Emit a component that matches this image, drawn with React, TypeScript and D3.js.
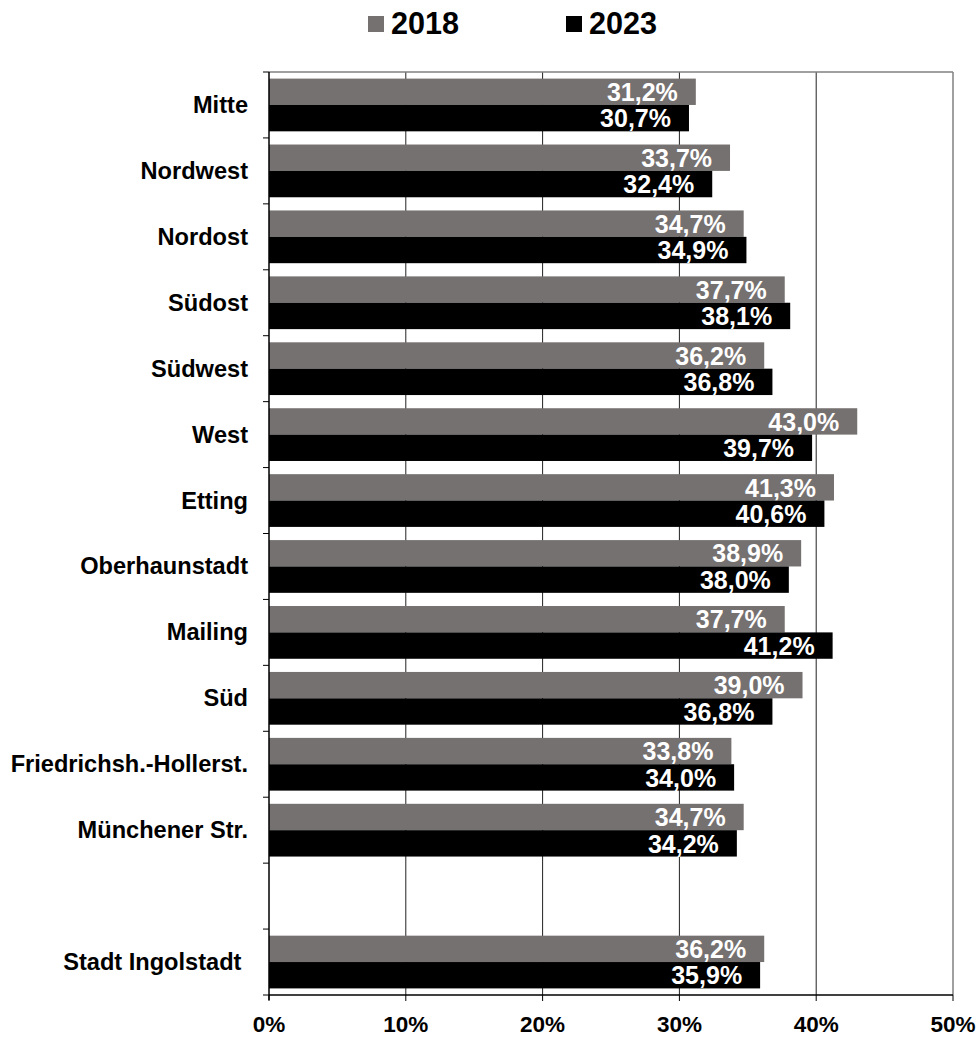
import React from "react";
import * as d3 from "d3";

const categories = [
  "Mitte",
  "Nordwest",
  "Nordost",
  "Südost",
  "Südwest",
  "West",
  "Etting",
  "Oberhaunstadt",
  "Mailing",
  "Süd",
  "Friedrichsh.-Hollerst.",
  "Münchener Str.",
  "",
  "Stadt Ingolstadt\u00A0",
];
const values2018: (number | null)[] = [31.2, 33.7, 34.7, 37.7, 36.2, 43.0, 41.3, 38.9, 37.7, 39.0, 33.8, 34.7, null, 36.2];
const values2023: (number | null)[] = [30.7, 32.4, 34.9, 38.1, 36.8, 39.7, 40.6, 38.0, 41.2, 36.8, 34.0, 34.2, null, 35.9];
const seriesNames = ["2018", "2023"];
const xTicks = [0, 10, 20, 30, 40, 50];

const COLORS = ["#767171", "#000000"];
const FONT = "'Liberation Sans', Arial, sans-serif";

export default function App() {
  const width = 980;
  const height = 1037;
  const left = 269;
  const right = 953;
  const top = 72;
  const bottom = 995;

  const x = d3.scaleLinear().domain([0, 50]).range([left, right]);
  const slots = categories.map((_, i) => String(i));
  const y = d3.scaleBand().domain(slots).range([top, bottom]).paddingInner(0.2).paddingOuter(0.1);
  const sub = d3.scaleBand().domain(seriesNames).range([0, y.bandwidth()]);
  const step = y.step();

  const fmt = (v: number) => v.toFixed(1).replace(".", ",") + "%";
  const series = [values2018, values2023];

  return (
    <svg width={width} height={height} style={{ display: "block", position: "absolute", left: 0, top: 0 }} fontFamily={FONT}>
      <rect x={0} y={0} width={width} height={height} fill="#fff" />
      {/* legend */}
      {seriesNames.map((s, i) => {
        const lx = 368 + i * 198;
        return (
          <g key={s}>
            <rect x={lx} y={16} width={16} height={16} fill={COLORS[i]} />
            <text x={lx + 23} y={34} fontSize={30.6} fontWeight="bold" fill="#000">
              {s}
            </text>
          </g>
        );
      })}
      {/* gridlines */}
      {xTicks.slice(1, -1).map((t) => (
        <line key={t} x1={x(t)} x2={x(t)} y1={top} y2={bottom} stroke="#222" strokeWidth={1} />
      ))}
      {/* plot border top/right */}
      <line x1={left} x2={right} y1={top} y2={top} stroke="#808080" strokeWidth={1.5} />
      <line x1={right} x2={right} y1={top} y2={bottom} stroke="#808080" strokeWidth={1.5} />
      {/* bars */}
      {series.map((vals, si) =>
        vals.map((v, i) => {
          if (v == null) return null;
          const by = (y(String(i)) as number) + (sub(seriesNames[si]) as number);
          const bh = sub.bandwidth();
          return (
            <g key={si + "-" + i}>
              <rect x={x(0)} y={by} width={x(v) - x(0)} height={bh} fill={COLORS[si]} />
              <text
                x={x(v) - 18}
                y={by + bh / 2 + 9.2}
                textAnchor="end"
                fontSize={25}
                fontWeight="bold"
                fill="#fff"
              >
                {fmt(v)}
              </text>
            </g>
          );
        })
      )}
      {/* y axis */}
      <line x1={left} x2={left} y1={top} y2={bottom + 5} stroke="#000" strokeWidth={1.5} />
      {d3.range(categories.length + 1).map((i) => (
        <line key={i} x1={left - 6} x2={left} y1={top + i * step} y2={top + i * step} stroke="#000" strokeWidth={1} />
      ))}
      {categories.map((c, i) => (
        <text
          key={i}
          x={248}
          y={(y(String(i)) as number) + y.bandwidth() / 2 + 8}
          textAnchor="end"
          fontSize={23.6}
          fontWeight="bold"
          fill="#000"
          style={{ whiteSpace: "pre" }}
        >
          {c}
        </text>
      ))}
      {/* x axis */}
      <line x1={left} x2={right} y1={bottom} y2={bottom} stroke="#000" strokeWidth={1.5} />
      {xTicks.map((t) => (
        <g key={t}>
          <line x1={x(t)} x2={x(t)} y1={bottom} y2={bottom + 6} stroke="#000" strokeWidth={1} />
          <text x={x(t)} y={1032} textAnchor="middle" fontSize={22.5} fontWeight="bold" fill="#000">
            {t + "%"}
          </text>
        </g>
      ))}
    </svg>
  );
}
